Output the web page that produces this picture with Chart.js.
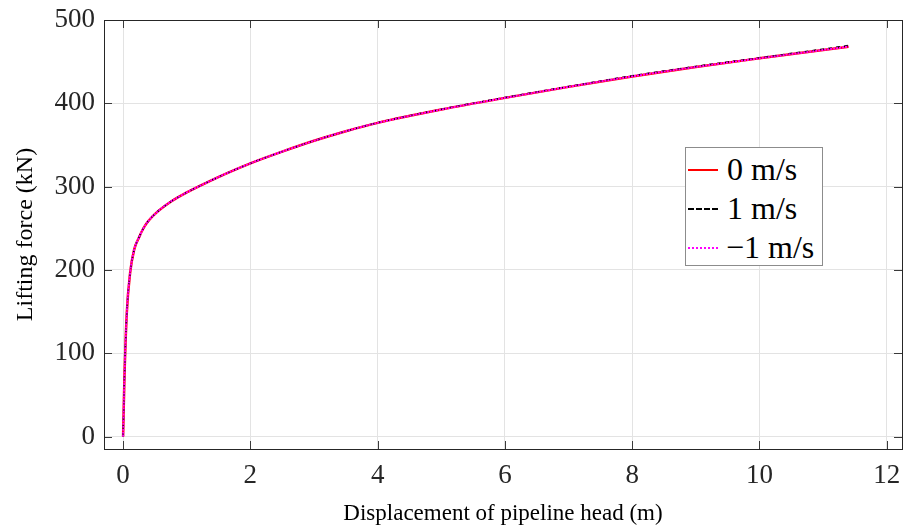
<!DOCTYPE html>
<html>
<head>
<meta charset="utf-8">
<script src="https://cdn.jsdelivr.net/npm/chart.js@4.4.0/dist/chart.umd.min.js"></script>
<style>
  html, body { margin: 0; padding: 0; background: #fff; }
  #wrap { position: relative; width: 905px; height: 530px; }
  #legend {
    position: absolute; left: 685px; top: 147px; width: 138px; height: 119px;
    border: 1px solid #8c8c8c; background: #fff; box-sizing: border-box;
    font-family: "Liberation Serif", "Times New Roman", serif; font-size: 32px; color: #000;
  }
  .row { position: absolute; left: 0; height: 36px; line-height: 36px; white-space: nowrap; }
  .sample { position: absolute; left: 2px; width: 30px; top: 18px; height: 0; }
  .lbl { position: absolute; left: 41px; top: 0; }
</style>
</head>
<body>
<div id="wrap">
  <canvas id="c" width="905" height="530"></canvas>
  <div id="legend"></div>
</div>
<script>
// ---- data ----
const xValues = [0, 0.02, 0.058, 0.11, 0.173, 0.25, 0.32, 0.40, 0.55, 0.76, 1.0, 1.29, 1.6, 2.02, 2.5, 3.0, 3.5, 4.0, 5, 6, 7, 8, 9, 10, 11, 11.4];
const force0   = [0, 67, 148, 196, 224, 239, 250, 259, 270.5, 282.5, 293, 304, 315, 328.5, 342, 355, 366.5, 376.5, 392.5, 406.5, 419.7, 432.3, 443.6, 454, 464, 468];
const force1   = [0, 67, 148, 196, 224, 239, 250, 259, 270.5, 282.5, 293, 304, 315, 328.5, 342, 355, 366.5, 376.7, 392.8, 407, 420.2, 433, 444.3, 454.7, 465, 469.4];
const forceM1  = [0, 67, 148, 196, 224, 239, 250, 259, 270.5, 282.5, 293, 304, 315, 328.5, 342, 355, 366.5, 376.5, 392.5, 406.5, 419.7, 432.3, 443.6, 454, 464, 468];
const seriesNames = ['0 m/s', '1 m/s', '\u22121 m/s'];
const xTickValues = [0, 2, 4, 6, 8, 10, 12];
const yTickValues = [0, 100, 200, 300, 400, 500];

const toPts = ys => xValues.map((x, i) => ({x: x, y: ys[i]}));

const serif = '"Liberation Serif", "Times New Roman", serif';

const frameTicks = {
  id: 'frameTicks',
  afterDraw(chart) {
    const {ctx, chartArea: a, scales} = chart;
    ctx.save();
    ctx.strokeStyle = '#3a3a3a';
    ctx.lineWidth = 1;
    ctx.beginPath();
    const L = 8;
    xTickValues.forEach(v => {
      const px = Math.round(scales.x.getPixelForValue(v)) + 0.5;
      ctx.moveTo(px, a.bottom); ctx.lineTo(px, a.bottom - L);
      ctx.moveTo(px, a.top); ctx.lineTo(px, a.top + L);
    });
    yTickValues.forEach(v => {
      const py = Math.round(scales.y.getPixelForValue(v)) + 0.5;
      ctx.moveTo(a.left, py); ctx.lineTo(a.left + L, py);
      ctx.moveTo(a.right, py); ctx.lineTo(a.right - L, py);
    });
    ctx.stroke();
    ctx.strokeStyle = '#262626';
    ctx.strokeRect(Math.round(a.left) + 0.5, Math.round(a.top) + 0.5, Math.round(a.right - a.left), Math.round(a.bottom - a.top));
    ctx.restore();
  }
};

const chart = new Chart(document.getElementById('c'), {
  type: 'line',
  data: {
    datasets: [
      {label: seriesNames[0], order: 3, data: toPts(force0), borderColor: '#ff0000', borderWidth: 2.5, pointRadius: 0, cubicInterpolationMode: 'monotone', fill: false},
      {label: seriesNames[1], order: 2, data: toPts(force1), borderColor: '#000000', borderWidth: 1.5, borderDash: [4, 4], pointRadius: 0, cubicInterpolationMode: 'monotone', fill: false},
      {label: seriesNames[2], order: 1, data: toPts(forceM1), borderColor: '#ff00ff', borderWidth: 2, borderDash: [2, 1], pointRadius: 0, cubicInterpolationMode: 'monotone', fill: false}
    ]
  },
  options: {
    responsive: false,
    animation: false,
    events: [],
    layout: {padding: {top: 20, right: 3, left: 0, bottom: 0}},
    plugins: {legend: {display: false}, tooltip: {enabled: false}},
    scales: {
      x: {
        type: 'linear', min: -0.3, max: 12.24,
        afterBuildTicks: s => { s.ticks = xTickValues.map(v => ({value: v})); },
        afterFit: s => { s.height = 81; s.paddingLeft = 0; s.paddingRight = 0; },
        grid: {color: '#e3e3e3', drawTicks: false},
        border: {display: false},
        ticks: {font: {family: serif, size: 27}, color: '#262626', padding: 11},
        title: {display: true, text: 'Displacement of pipeline head (m)', font: {family: serif, size: 23}, color: '#000', padding: {top: 0, bottom: 2}}
      },
      y: {
        type: 'linear', min: -15, max: 500,
        afterBuildTicks: s => { s.ticks = yTickValues.map(v => ({value: v})); },
        afterFit: s => { s.width = 104; s.paddingTop = 0; s.paddingBottom = 0; },
        grid: {color: '#e3e3e3', drawTicks: false},
        border: {display: false},
        ticks: {font: {family: serif, size: 27}, color: '#262626', padding: 9},
        title: {display: true, text: 'Lifting force (kN)', font: {family: serif, size: 24}, color: '#000', padding: {top: 11, bottom: 0}}
      }
    }
  },
  plugins: [frameTicks]
});

// HTML legend built from the dataset definitions
const legend = document.getElementById('legend');
chart.data.datasets.forEach((ds, i) => {
  const row = document.createElement('div');
  row.className = 'row';
  row.style.top = (3 + i * 39) + 'px';
  row.style.width = '136px';
  const s = document.createElement('div');
  s.className = 'sample';
  const style = i === 0 ? 'solid' : (i === 1 ? 'dashed' : 'dotted');
  s.style.borderTop = '2px ' + style + ' ' + ds.borderColor;
  const t = document.createElement('div');
  t.className = 'lbl';
  t.textContent = ds.label;
  if (i === 2) t.style.left = '40px';
  row.appendChild(s); row.appendChild(t);
  legend.appendChild(row);
});
</script>
</body>
</html>
